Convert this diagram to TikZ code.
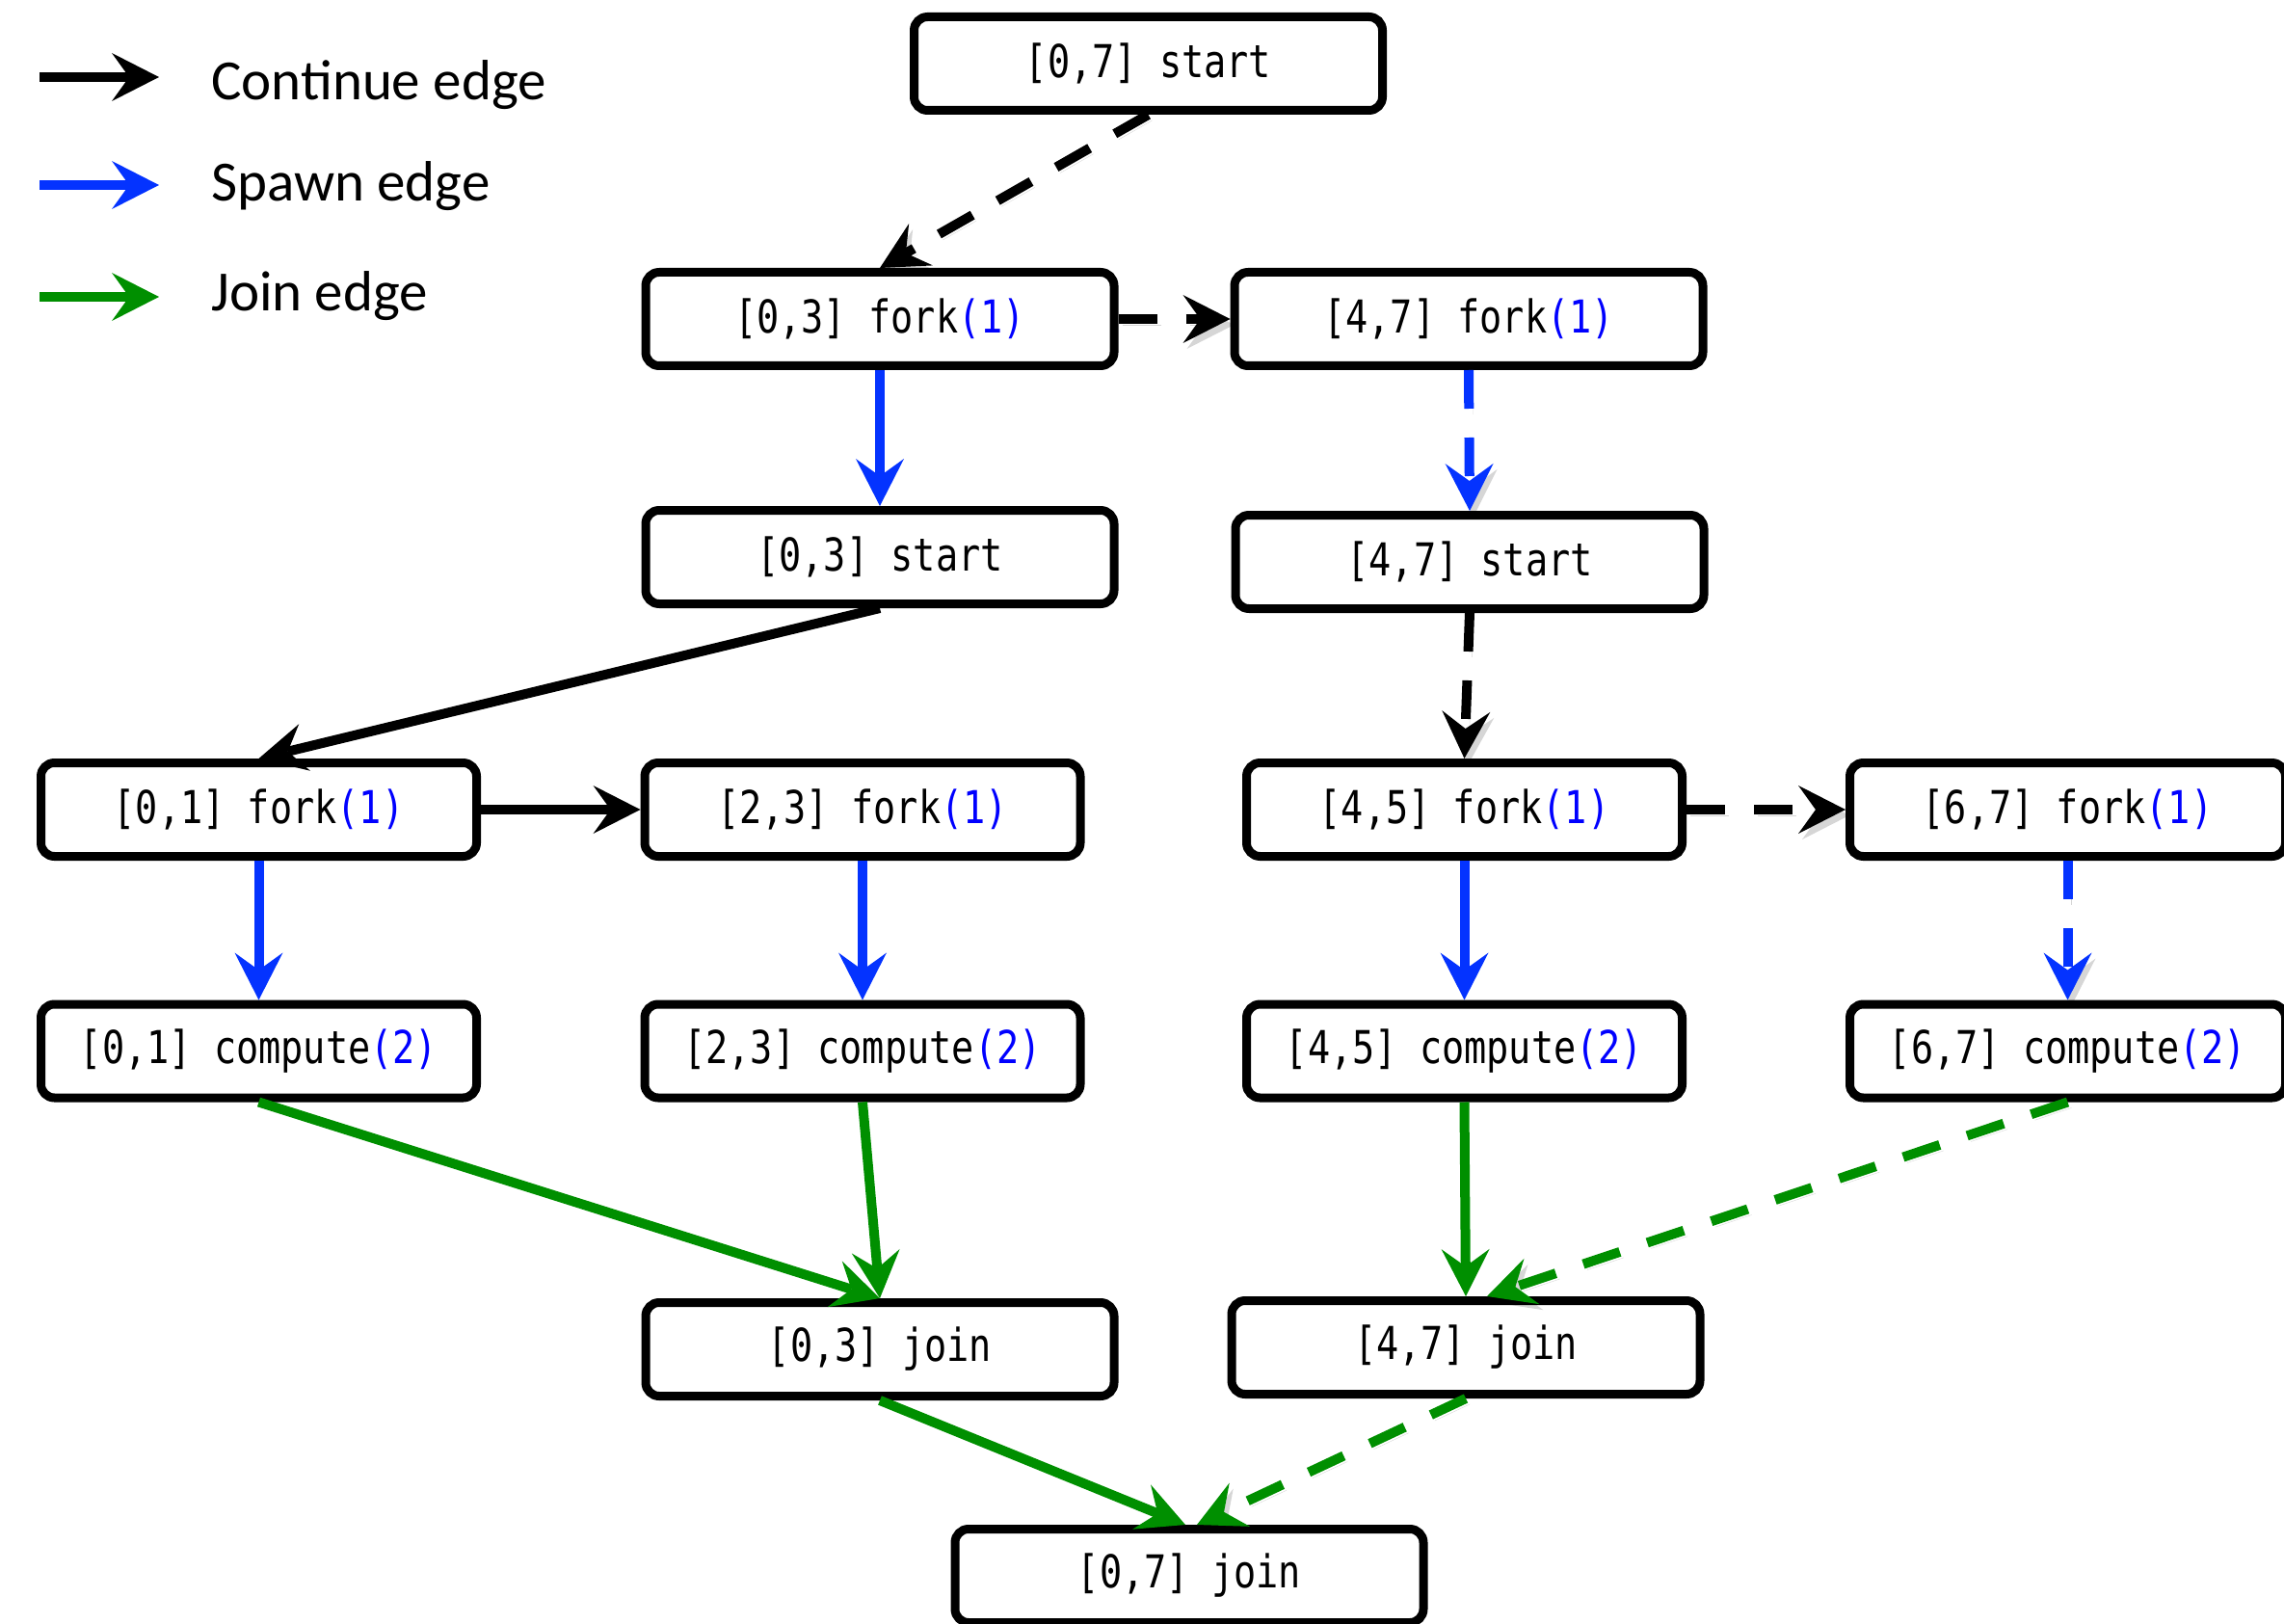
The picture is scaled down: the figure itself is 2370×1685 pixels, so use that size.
\documentclass[tikz,border=0pt]{standalone}
\usepackage{fontspec}
\usetikzlibrary{arrows.meta}
\newfontfamily\codefont[FakeStretch=0.82]{DejaVu Sans Mono}
\newfontfamily\legfont{Carlito}
\definecolor{eblue}{RGB}{4,51,255}
\definecolor{egreen}{RGB}{0,143,0}
\definecolor{tblue}{RGB}{0,0,255}
\begin{document}
\begin{tikzpicture}[x=1pt,y=-1pt,
  box/.style={draw, line width=9pt, rounded corners=14pt, minimum height=97pt, fill=white, inner sep=0pt, font=\codefont\fontsize{47}{52}\selectfont},
  bigbox/.style={box, minimum width=486pt},
  smallbox/.style={box, minimum width=452pt},
  headtip/.style={-{Stealth[length=49pt,width=50pt,inset=18pt,line width=0pt]}},
  arr/.style={line width=10pt, headtip},
  contedge/.style={arr, black},
  spawnedge/.style={arr, eblue},
  joinedge/.style={arr, egreen},
  dashedge/.style={dash pattern=on 40pt off 30pt, preaction={draw=black, opacity=0.16, dash pattern=on 40pt off 30pt, transform canvas={shift={(4pt,-6pt)}}}},
  legtext/.style={anchor=base west, inner sep=0pt, font=\legfont\fontsize{59}{70}\selectfont}
]
\useasboundingbox[fill=white] (0,0) rectangle (2370,1685);

% legend
\coordinate (l1a) at (41,80);  \coordinate (l1b) at (165,80);
\coordinate (l2a) at (41,192); \coordinate (l2b) at (165,192);
\coordinate (l3a) at (41,308); \coordinate (l3b) at (165,308);
\draw[contedge] (l1a) -- (l1b);
\draw[spawnedge] (l2a) -- (l2b);
\draw[joinedge] (l3a) -- (l3b);
\node[legtext] (lt1) at (219,104) {Continue edge};
\node[legtext] (lt2) at (219,209) {Spawn edge};
\node[legtext] (lt3) at (219,323) {Join edge};

% nodes
\node[bigbox] (start07) at (1191.5,66) {[0,7] start};
\node[bigbox] (fork03) at (913,331) {[0,3] fork\textcolor{tblue}{(1)}};
\node[bigbox] (fork47) at (1524,331) {[4,7] fork\textcolor{tblue}{(1)}};
\node[bigbox] (start03) at (913,578) {[0,3] start};
\node[bigbox] (start47) at (1525,583) {[4,7] start};
\node[smallbox] (fork01) at (268.5,840) {[0,1] fork\textcolor{tblue}{(1)}};
\node[smallbox] (fork23) at (895,840) {[2,3] fork\textcolor{tblue}{(1)}};
\node[smallbox] (fork45) at (1519.5,840) {[4,5] fork\textcolor{tblue}{(1)}};
\node[smallbox] (fork67) at (2145.5,840) {[6,7] fork\textcolor{tblue}{(1)}};
\node[smallbox] (compute01) at (268.5,1090.5) {[0,1] compute\textcolor{tblue}{(2)}};
\node[smallbox] (compute23) at (895,1090.5) {[2,3] compute\textcolor{tblue}{(2)}};
\node[smallbox] (compute45) at (1519.5,1090.5) {[4,5] compute\textcolor{tblue}{(2)}};
\node[smallbox] (compute67) at (2145.5,1090.5) {[6,7] compute\textcolor{tblue}{(2)}};
\node[bigbox] (join03) at (913,1400) {[0,3] join};
\node[bigbox] (join47) at (1521,1398) {[4,7] join};
\node[bigbox] (join07) at (1234,1635) {[0,7] join};

% edges
\draw[contedge, dashedge] (start07.south) -- (fork03.north);
\draw[contedge, dashedge] (fork03.east) -- (fork47.west);
\draw[spawnedge] (fork03.south) -- (start03.north);
\draw[spawnedge, dashedge] (fork47.south) -- (start47.north);
\draw[contedge] (start03.south) -- (fork01.north);
\draw[contedge, dashedge] (start47.south) -- (fork45.north);
\draw[contedge] (fork01.east) -- (fork23.west);
\draw[contedge, dashedge] (fork45.east) -- (fork67.west);
\draw[spawnedge] (fork01.south) -- (compute01.north);
\draw[spawnedge] (fork23.south) -- (compute23.north);
\draw[spawnedge] (fork45.south) -- (compute45.north);
\draw[spawnedge, dashedge] (fork67.south) -- (compute67.north);
\draw[joinedge] (compute01.south) -- (join03.north);
\draw[joinedge] (compute23.south) -- (join03.north);
\draw[joinedge] (compute45.south) -- (join47.north);
\draw[joinedge, dashedge] (compute67.south) -- ([xshift=22pt]join47.north);
\draw[joinedge] (join03.south) -- ([xshift=-4pt]join07.north);
\draw[joinedge, dashedge] (join47.south) -- ([xshift=8pt]join07.north);
\end{tikzpicture}
\end{document}
